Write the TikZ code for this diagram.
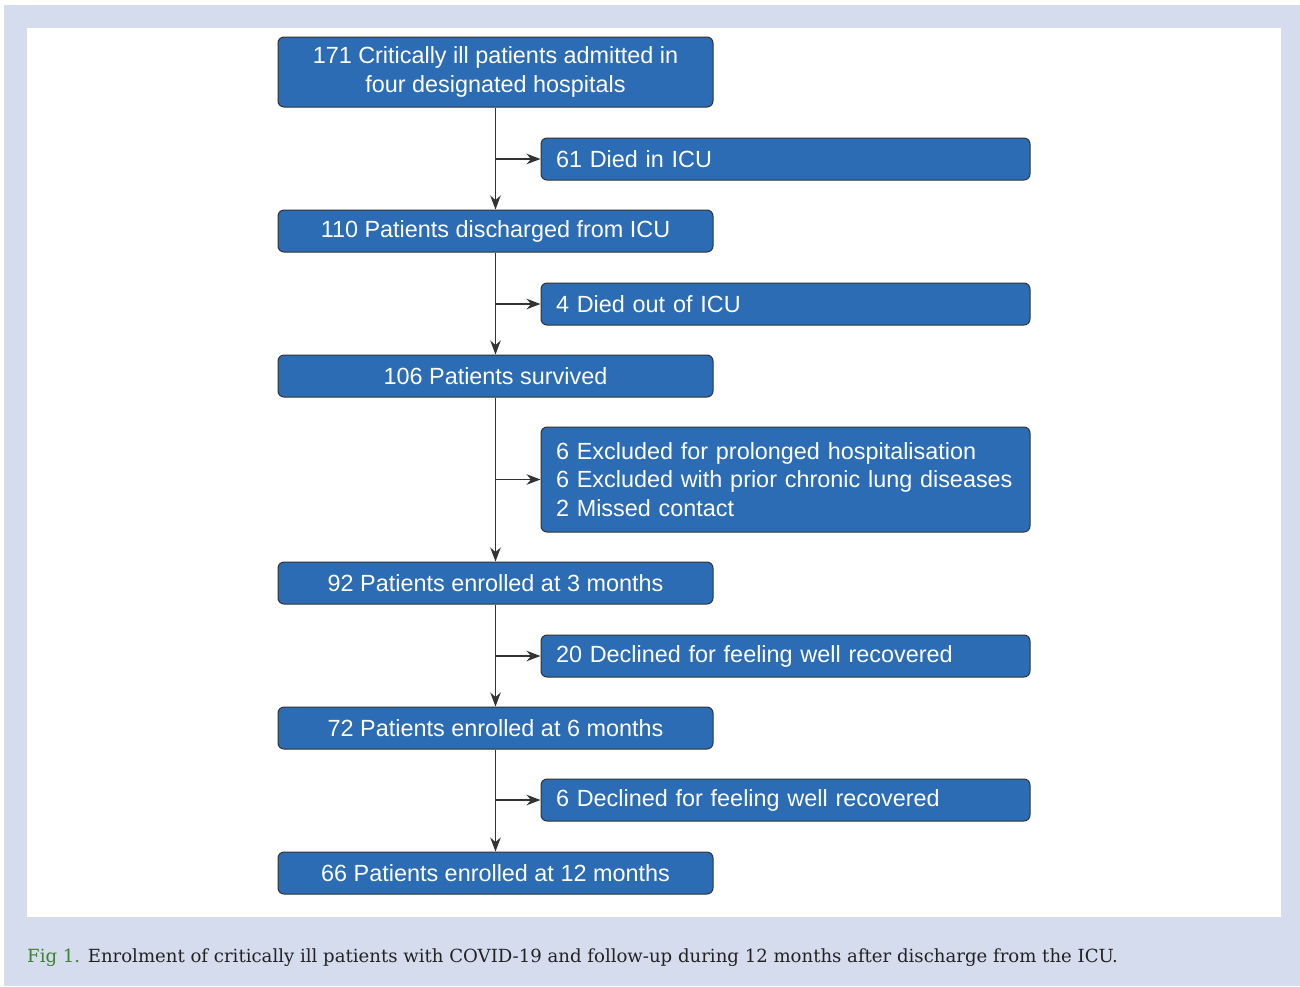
\documentclass[tikz,border=0pt]{standalone}
\usepackage{fontspec}
\setmainfont{Liberation Sans}
\newfontfamily\capfont{DejaVu Serif}
\usetikzlibrary{arrows.meta}
\definecolor{boxblue}{HTML}{2B6CB5}
\definecolor{bgblue}{HTML}{D4DCEE}
\definecolor{figgreen}{HTML}{3F7F36}
\definecolor{edgegray}{HTML}{333333}
\definecolor{captext}{HTML}{222222}
\begin{document}
\begin{tikzpicture}[x=1pt,y=-1pt,
  basebox/.style={draw=edgegray, fill=boxblue, rounded corners=6pt, line width=1pt,
    text=white, font=\fontsize{23.4}{28.8}\selectfont, inner ysep=0pt},
  leftbox/.style={basebox, minimum width=435pt, minimum height=42pt, align=center, inner xsep=0pt},
  rightbox/.style={basebox, text width=459pt, inner xsep=15pt, minimum height=42pt, align=left},
  flow/.style={draw=edgegray, line width=1.3pt, -{Stealth[length=14pt,width=10.5pt]}}]
\useasboundingbox (0,0) rectangle (1300,986);
\fill[bgblue] (4,5) rectangle (1300,986);
\fill[white] (27,28) rectangle (1281,917);

\node[leftbox, minimum height=70pt] (b1) at (495.5,72) {171 Critically ill patients admitted in\\four designated hospitals};
\node[rightbox] (r1) at (785.5,159) {61 Died in ICU};
\node[leftbox] (b2) at (495.5,231) {110 Patients discharged from ICU};
\node[rightbox] (r2) at (785.5,304) {4 Died out of ICU};
\node[leftbox] (b3) at (495.5,376) {106 Patients survived};
\node[rightbox, minimum height=105pt] (r3) at (785.5,479.5) {\mbox{6 Excluded for prolonged hospitalisation}\\\mbox{6 Excluded with prior chronic lung diseases}\\\mbox{2 Missed contact}};
\node[leftbox] (b4) at (495.5,583) {92 Patients enrolled at 3 months};
\node[rightbox] (r4) at (785.5,656) {20 Declined for feeling well recovered};
\node[leftbox] (b5) at (495.5,728) {72 Patients enrolled at 6 months};
\node[rightbox] (r5) at (785.5,800) {6 Declined for feeling well recovered};
\node[leftbox] (b6) at (495.5,873) {66 Patients enrolled at 12 months};

\draw[flow] (b1) -- (b2);
\draw[flow] (b2) -- (b3);
\draw[flow] (b3) -- (b4);
\draw[flow] (b4) -- (b5);
\draw[flow] (b5) -- (b6);
\draw[flow] (b1.south |- r1.west) -- (r1.west);
\draw[flow] (b2.south |- r2.west) -- (r2.west);
\draw[flow] (b3.south |- r3.west) -- (r3.west);
\draw[flow] (b4.south |- r4.west) -- (r4.west);
\draw[flow] (b5.south |- r5.west) -- (r5.west);

\node[anchor=base west, inner sep=0pt, font=\capfont\fontsize{18.1}{22}\selectfont, text=captext] (cap) at (27,962)
  {\textcolor{figgreen}{Fig 1.} Enrolment of critically ill patients with COVID-19 and follow-up during 12 months after discharge from the ICU.};
\end{tikzpicture}
\end{document}
